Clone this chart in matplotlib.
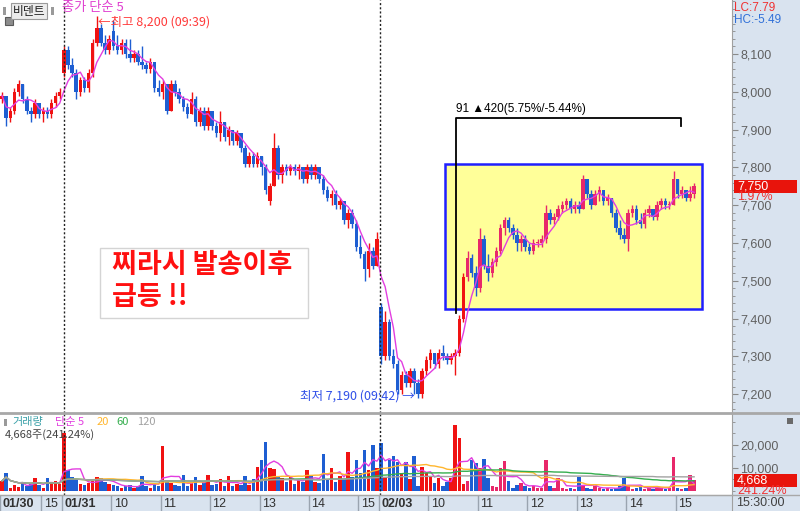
import numpy as np
import pandas as pd
import matplotlib
matplotlib.use("Agg")
import matplotlib.pyplot as plt
from matplotlib.patches import Rectangle
from matplotlib.lines import Line2D
from matplotlib.ticker import MultipleLocator, FuncFormatter
from matplotlib import transforms

KR = ["Noto Sans CJK KR", "DejaVu Sans"]
NUM = ["Liberation Sans", "DejaVu Sans"]
plt.rcParams["font.family"] = NUM

# 5-minute bars: 01/30 (from 14:10), 01/31, 02/03
open_0130 = [7980, 7990, 7930, 7950, 8000, 8020, 7980, 7950, 7940, 7970, 7940, 7950, 7940, 7970, 7990]
high_0130 = [8000, 7990, 7960, 8010, 8030, 8020, 7990, 7960, 7980, 7970, 7960, 7960, 7980, 8000, 8010]
low_0130 = [7970, 7910, 7920, 7940, 7990, 7970, 7940, 7920, 7930, 7930, 7920, 7930, 7930, 7960, 7980]
close_0130 = [7990, 7930, 7950, 8000, 8020, 7980, 7950, 7940, 7970, 7940, 7950, 7940, 7970, 7990, 8000]
vol_0130 = [4400, 7700, 1500, 2500, 1800, 4000, 2000, 3000, 5500, 2500, 1500, 5500, 3500, 4500, 3000]

open_0131 = [8050, 8110, 8070, 8050, 8000, 8030, 8010, 8050, 8130, 8170,
             8130, 8110, 8160, 8120, 8110, 8130, 8100, 8090, 8100, 8080,
             8070, 8060, 8080, 8010, 8000, 8020, 7950, 8020, 8000, 7980,
             7960, 7940, 7980, 7920, 7950, 7910, 7950, 7910, 7890, 7920,
             7880, 7900, 7870, 7890, 7850, 7810, 7830, 7810, 7830, 7800,
             7710, 7750, 7850, 7780, 7800, 7790, 7800, 7790, 7800, 7770,
             7800, 7780, 7800, 7770, 7740, 7720, 7730, 7700, 7710, 7660,
             7680, 7650, 7590, 7570, 7530, 7580, 7540]
high_0131 = [8120, 8120, 8090, 8060, 8040, 8040, 8060, 8140, 8200, 8180,
             8150, 8150, 8190, 8150, 8140, 8140, 8140, 8110, 8110, 8120,
             8080, 8090, 8080, 8030, 8030, 8020, 8030, 8030, 8010, 7990,
             7970, 8000, 7990, 7960, 7960, 7960, 7950, 7920, 7950, 7920,
             7910, 7900, 7900, 7890, 7860, 7840, 7840, 7840, 7830, 7810,
             7760, 7890, 7860, 7810, 7810, 7810, 7810, 7810, 7800, 7810,
             7810, 7810, 7800, 7780, 7750, 7740, 7740, 7720, 7710, 7690,
             7690, 7660, 7620, 7580, 7600, 7590, 7630]
low_0131 = [8040, 8060, 8040, 7980, 7990, 8000, 8000, 8040, 8120, 8120,
            8100, 8100, 8110, 8100, 8100, 8090, 8080, 8080, 8070, 8060,
            8050, 8050, 8000, 7990, 7980, 7940, 7950, 7990, 7970, 7950,
            7930, 7940, 7910, 7910, 7900, 7900, 7900, 7880, 7870, 7870,
            7860, 7860, 7860, 7840, 7800, 7800, 7800, 7800, 7780, 7730,
            7700, 7750, 7770, 7760, 7780, 7780, 7780, 7770, 7760, 7760,
            7770, 7770, 7760, 7730, 7710, 7700, 7690, 7690, 7650, 7640,
            7640, 7580, 7560, 7500, 7510, 7530, 7540]
close_0131 = [8110, 8070, 8050, 8000, 8030, 8010, 8050, 8130, 8170, 8130,
              8110, 8140, 8120, 8110, 8130, 8100, 8090, 8100, 8080, 8070,
              8060, 8080, 8010, 8000, 8020, 7950, 8020, 8000, 7980, 7960,
              7940, 7980, 7920, 7950, 7910, 7950, 7910, 7890, 7920, 7880,
              7900, 7870, 7890, 7850, 7810, 7830, 7810, 7830, 7800, 7740,
              7750, 7850, 7780, 7800, 7790, 7800, 7790, 7800, 7770, 7800,
              7780, 7800, 7770, 7740, 7720, 7730, 7700, 7710, 7660, 7680,
              7650, 7590, 7570, 7530, 7580, 7540, 7610]
vol_0131 = [25000, 9000, 6000, 5000, 3000, 2500, 3500, 4500, 6000, 5500,
            4000, 3000, 2500, 2000, 1500, 2000, 2500, 1500, 2000, 6500,
            2000, 1500, 3000, 2000, 19500, 4000, 3500, 2500, 2000, 7000,
            2000, 3500, 6000, 2500, 4000, 7000, 2500, 3000, 5000, 2000,
            6500, 2000, 3000, 2500, 6500, 2500, 5000, 10500, 13500, 21500,
            10000, 9500, 6000, 5500, 4000, 6000, 3000, 5000, 4000, 9000,
            6500, 4000, 3500, 16000, 5000, 10000, 4000, 6500, 5000, 17000,
            6000, 13500, 8000, 17800, 9000, 20000, 10000]

open_0203 = [7430, 7300, 7390, 7300, 7280, 7210, 7250, 7230, 7260, 7230,
             7200, 7260, 7290, 7310, 7280, 7310, 7300, 7290, 7300, 7310,
             7400, 7510, 7560, 7520, 7480, 7610, 7540, 7520, 7550, 7580,
             7640, 7660, 7640, 7620, 7600, 7610, 7590, 7580, 7600, 7600,
             7610, 7680, 7660, 7670, 7690, 7700, 7710, 7690, 7700, 7690,
             7770, 7730, 7700, 7730, 7740, 7710, 7720, 7680, 7640, 7620,
             7610, 7680, 7690, 7660, 7650, 7680, 7690, 7670, 7700, 7710,
             7700, 7700, 7770, 7730, 7740, 7720, 7730]
high_0203 = [7440, 7420, 7400, 7320, 7290, 7260, 7260, 7270, 7270, 7240,
             7270, 7300, 7320, 7310, 7320, 7330, 7310, 7310, 7320, 7410,
             7520, 7580, 7570, 7540, 7640, 7620, 7570, 7560, 7590, 7650,
             7670, 7670, 7650, 7640, 7620, 7620, 7600, 7610, 7610, 7620,
             7700, 7690, 7680, 7700, 7710, 7720, 7720, 7710, 7710, 7780,
             7770, 7740, 7740, 7750, 7740, 7730, 7720, 7690, 7660, 7640,
             7690, 7700, 7700, 7680, 7690, 7700, 7690, 7710, 7720, 7720,
             7710, 7790, 7770, 7750, 7740, 7750, 7760]
low_0203 = [7280, 7290, 7290, 7270, 7200, 7200, 7220, 7220, 7200, 7190,
            7190, 7250, 7270, 7270, 7270, 7290, 7280, 7280, 7250, 7300,
            7390, 7500, 7510, 7460, 7470, 7530, 7500, 7510, 7540, 7570,
            7620, 7630, 7610, 7580, 7580, 7580, 7570, 7570, 7590, 7590,
            7600, 7650, 7650, 7660, 7680, 7690, 7680, 7680, 7680, 7690,
            7720, 7690, 7700, 7710, 7700, 7700, 7670, 7630, 7610, 7600,
            7580, 7670, 7650, 7640, 7640, 7670, 7660, 7660, 7690, 7690,
            7690, 7700, 7720, 7720, 7710, 7710, 7720]
close_0203 = [7300, 7390, 7300, 7280, 7210, 7250, 7230, 7260, 7230, 7200,
              7260, 7290, 7310, 7280, 7310, 7300, 7290, 7300, 7310, 7400,
              7510, 7560, 7520, 7480, 7610, 7540, 7520, 7550, 7580, 7640,
              7660, 7640, 7620, 7600, 7610, 7590, 7580, 7600, 7600, 7610,
              7680, 7660, 7670, 7690, 7700, 7710, 7690, 7700, 7690, 7770,
              7730, 7700, 7730, 7740, 7710, 7720, 7680, 7640, 7620, 7610,
              7680, 7690, 7660, 7650, 7680, 7690, 7670, 7700, 7710, 7700,
              7700, 7770, 7730, 7740, 7720, 7730, 7750]
vol_0203 = [20700, 6000, 13500, 15000, 12700, 8000, 12700, 5000, 15000, 2000,
            10600, 7700, 6600, 3500, 5500, 2000, 4000, 5500, 28700, 22900,
            3000, 4500, 13300, 12000, 10000, 13800, 5800, 2000, 1800, 10000,
            13200, 4500, 1500, 2500, 3500, 2000, 1500, 2000, 1500, 1200,
            13500, 2000, 1500, 5800, 1200, 1000, 1500, 1000, 6200, 2500,
            1500, 1000, 2000, 1200, 1000, 1500, 1000, 1200, 2000, 5800,
            2500, 1000, 1200, 2300, 1000, 1500, 1000, 2000, 1200, 1000,
            1500, 14800, 1500, 1000, 1500, 6900, 4668]

# bottom axis: label text and the bar where each label starts
tick_labels = ["01/30", "15", "01/31", "10", "11", "12", "13", "14", "15",
               "02/03", "10", "11", "12", "13", "14", "15"]
tick_bars = [0, 10, 15, 27, 39, 51, 63, 75, 87, 92, 104, 116, 128, 140, 152, 164]
date_labels = {"01/30", "01/31", "02/03"}
price_ticks = [7200, 7300, 7400, 7500, 7600, 7700, 7800, 7900, 8000, 8100]
vol_ticks = [10000, 20000]

opens = np.array(open_0130 + open_0131 + open_0203, dtype=float)
highs = np.array(high_0130 + high_0131 + high_0203, dtype=float)
lows = np.array(low_0130 + low_0131 + low_0203, dtype=float)
closes = np.array(close_0130 + close_0131 + close_0203, dtype=float)
vols = np.array(vol_0130 + vol_0131 + vol_0203, dtype=float)
x = np.arange(len(closes))

UP, DOWN = "#f01212", "#1e5ed2"
UP_BOX = "#e8286a"
MAG, ORANGE, GREEN, GRAY = "#e23ee0", "#ffb62e", "#35ae4e", "#a2a2a2"
STRIP = "#d9e3ef"
BAR_W = 0.85

W, H = 800, 511
def fx(px):
    return px / W
def fy(py):
    return 1 - py / H

fig = plt.figure(figsize=(8, 5.11), dpi=100)
fig.add_artist(Rectangle((fx(732), 0), 1 - fx(732), 1, transform=fig.transFigure,
                         fc=STRIP, ec="none", zorder=-1))
ax = fig.add_axes([0, fy(413), fx(732), 413 / H])
axv = fig.add_axes([0, fy(495), fx(732), 82 / H])
axx = fig.add_axes([0, 0, fx(732), 16 / H])

# ---- price panel ----
box_x0, box_x1, box_y0, box_y1 = 107.5, 169.9, 7426, 7809
ax.add_patch(Rectangle((box_x0, box_y0), box_x1 - box_x0, box_y1 - box_y0,
                       fc="#ffff99", ec="#1f1fff", lw=1.8, zorder=1))

up = closes >= opens
in_box = (x >= box_x0) & (lows >= box_y0 - 30)
cols = np.where(up, np.where(in_box, UP_BOX, UP), DOWN)
ax.vlines(x, lows, highs, colors=cols, lw=1, zorder=3)
body_lo = np.minimum(opens, closes)
body_h = np.maximum(np.abs(closes - opens), 3)
ax.bar(x, body_h, bottom=body_lo, width=BAR_W, color=cols, lw=0, zorder=4)

ma5 = pd.Series(closes).rolling(5, min_periods=1).mean()
ax.plot(x, ma5, color=MAG, lw=1, zorder=5)

for d in (15, 91.7):
    ax.axvline(d, color="#222222", lw=1, ls=(0, (1.5, 1.5)), zorder=6)
    axv.axvline(d, color="#222222", lw=1, ls=(0, (1.5, 1.5)), zorder=6)

# measuring bracket
ax.plot([110.2, 110.2, 164.8, 164.8], [7414, 7930, 7930, 7909], color="black", lw=1.3, zorder=7)
ax.text(110.2, 7938, "91 ▲420(5.75%/-5.44%)", fontsize=8.5, color="black",
        va="bottom", ha="left", family=NUM, zorder=7)

ax.text(23.3, 8185, "←최고 8,200 (09:39)", fontsize=9, color="#ff3a3a",
        va="center", ha="left", family=KR, zorder=7)
ax.text(100.2, 7195, "최저 7,190 (09:42) →", fontsize=9, color="#2f4fe8",
        va="center", ha="right", family=KR, zorder=7)

ax.add_patch(Rectangle((23.8, 7401), 50.5, 185, fc="white", ec="#d4d4d4", lw=1, zorder=2))
ax.text(26.7, 7543, "찌라시 발송이후", fontsize=19.5, fontweight="bold", color="#ff1010",
        va="center", ha="left", family=KR, zorder=7)
ax.text(26.7, 7457, "급등 !!", fontsize=19.5, fontweight="bold", color="#ff1010",
        va="center", ha="left", family=KR, zorder=7)

ax.set_xlim(-0.5, 177.2)
ax.set_ylim(7150, 8243)
ax.set_xticks([])
ax.yaxis.tick_right()
ax.set_yticks(price_ticks)
ax.yaxis.set_major_formatter(FuncFormatter(lambda v, p: f"{v:,.0f}"))
ax.yaxis.set_minor_locator(MultipleLocator(20))
ax.tick_params(axis="y", which="major", direction="out", length=4, color="#8a8a8a",
               labelsize=9, labelcolor="#606060", pad=2)
ax.tick_params(axis="y", which="minor", direction="out", length=2, color="#8a8a8a")
for s in ("top", "left", "bottom"):
    ax.spines[s].set_visible(False)
ax.spines["right"].set_color("#a0a0a0")

trans_p = transforms.blended_transform_factory(fig.transFigure, ax.transData)
ax.add_patch(Rectangle((fx(734), 7750 - 17), fx(797) - fx(734), 34, transform=trans_p,
                       fc="#e8140c", ec="none", clip_on=False, zorder=8))
ax.text(fx(737), 7750, "7,750", transform=trans_p, color="white", fontsize=9,
        va="center", ha="left", clip_on=False, zorder=9)
ax.text(fx(737), 7721, "1.97%", transform=trans_p, color="#f03030", fontsize=9,
        va="center", ha="left", clip_on=False, zorder=9)

# ---- volume panel ----
axv.bar(x, vols, width=BAR_W, color=cols, lw=0, zorder=3)
vs = pd.Series(vols)
for n, c in ((5, MAG), (20, ORANGE), (60, GREEN), (120, GRAY)):
    axv.plot(x, vs.rolling(n, min_periods=1).mean(), color=c, lw=1, zorder=4)
axv.set_xlim(-0.5, 177.2)
axv.set_ylim(-1740, 33900)
axv.set_xticks([])
axv.yaxis.tick_right()
axv.set_yticks(vol_ticks)
axv.yaxis.set_major_formatter(FuncFormatter(lambda v, p: f"{v:,.0f}"))
axv.yaxis.set_minor_locator(MultipleLocator(5000))
axv.tick_params(axis="y", which="major", direction="out", length=4, color="#8a8a8a",
                labelsize=9, labelcolor="#606060", pad=2)
axv.tick_params(axis="y", which="minor", direction="out", length=2, color="#8a8a8a")
for s in ("top", "left", "bottom"):
    axv.spines[s].set_visible(False)
axv.spines["right"].set_color("#a0a0a0")

trans_v = transforms.blended_transform_factory(fig.transFigure, axv.transData)
axv.add_patch(Rectangle((fx(734), 4668 - 2825), fx(797) - fx(734), 5650, transform=trans_v,
                        fc="#e8140c", ec="none", clip_on=False, zorder=8))
axv.text(fx(737), 4668, "4,668", transform=trans_v, color="white", fontsize=9,
         va="center", ha="left", clip_on=False, zorder=9)
axv.text(fx(737), 0, "241.24%", transform=trans_v, color="#f03030", fontsize=9,
         va="center", ha="left", clip_on=False, zorder=9)

# ---- bottom time strip ----
axx.set_facecolor(STRIP)
axx.set_xlim(-0.5, 177.2)
axx.set_ylim(0, 1)
axx.set_xticks([])
axx.set_yticks([])
for s in ("left", "bottom"):
    axx.spines[s].set_visible(False)
axx.spines["top"].set_color("#a0a0a0")
axx.spines["right"].set_color("#a0a0a0")
for lab, b in zip(tick_labels, tick_bars):
    axx.axvline(b - 0.5, color="#9aa4b0", lw=1)
    axx.text(b - 0.5 + 0.6, 0.45, lab, fontsize=9, va="center", ha="left",
             color="#303030", fontweight="bold" if lab in date_labels else "normal")
fig.text(fx(736), fy(503), "15:30:00", fontsize=9, color="#404040", va="center", ha="left")

# panel separators
fig.add_artist(Line2D([0, 1], [fy(413), fy(413)], transform=fig.transFigure,
                      color="#a8a8a8", lw=2))
fig.add_artist(Line2D([0, 1], [fy(495), fy(495)], transform=fig.transFigure,
                      color="#a8a8a8", lw=1))

# ---- header texts ----
fig.text(fx(734), fy(8), "LC:7.79", fontsize=8.5, color="#f03030", va="center", ha="left")
fig.text(fx(734), fy(20), "HC:-5.49", fontsize=8.5, color="#3070d8", va="center", ha="left")

fig.add_artist(Rectangle((fx(3), fy(15)), fx(3), 8 / H, transform=fig.transFigure,
                         fc="#9a9a9a", ec="none"))
fig.add_artist(Rectangle((fx(51), fy(15)), fx(3), 8 / H, transform=fig.transFigure,
                         fc="#9a9a9a", ec="none"))
fig.add_artist(Rectangle((fx(5), fy(25)), fx(8), 8 / H, transform=fig.transFigure,
                         fc="#8c8c8c", ec="#5a5a5a", lw=0.8))
fig.text(fx(29), fy(11), "비덴트", fontsize=8.5, family=KR, color="#202020",
         ha="center", va="center",
         bbox=dict(boxstyle="square,pad=0.15", fc="#ececec", ec="#9a9a9a", lw=0.8))
fig.text(fx(62), fy(8), "종가 단순 5", fontsize=9.5, family=KR, color="#e040d0",
         ha="left", va="center")

fig.add_artist(Rectangle((fx(4), fy(426)), fx(3), 7 / H, transform=fig.transFigure,
                         fc="#9a9a9a", ec="none"))
legend_parts = [("거래량", "#3aa0a8", 12), ("단순 5", MAG, 55), ("20", ORANGE, 97),
                ("60", GREEN, 116), ("120", GRAY, 137)]
for txt, c, px in legend_parts:
    fig.text(fx(px), fy(422), txt, fontsize=8, family=KR, color=c, ha="left", va="center")
fig.text(fx(5), fy(435), "4,668주(241.24%)", fontsize=8, family=KR, color="#444444",
         ha="left", va="center")
fig.add_artist(Rectangle((fx(787), fy(424)), fx(6), 6 / H, transform=fig.transFigure,
                         fc="#6a6a6a", ec="none"))

fig.savefig("out.png", dpi=100)
